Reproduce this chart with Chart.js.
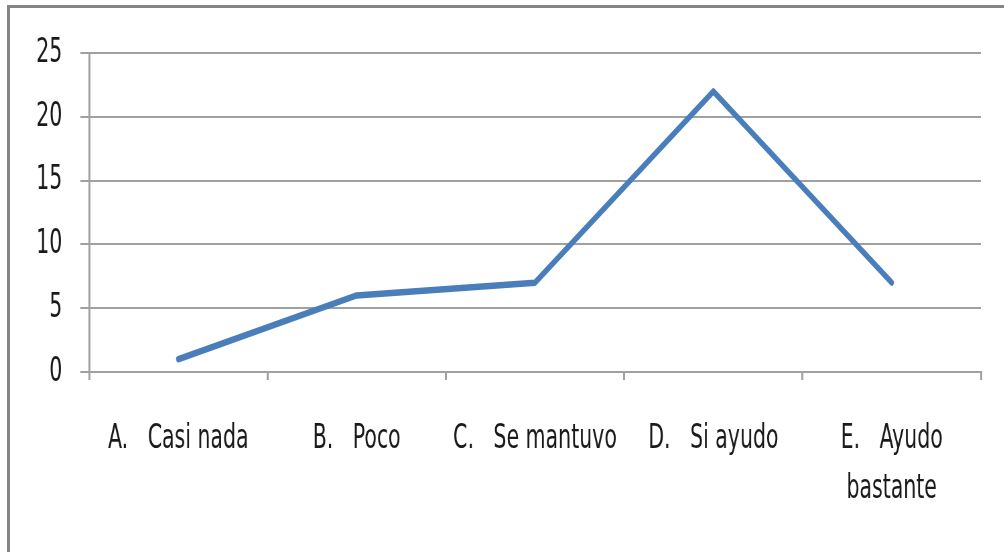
<!DOCTYPE html>
<html>
<head>
<meta charset="utf-8">
<script src="https://cdn.jsdelivr.net/npm/chart.js@4"></script>
<style>
  html, body { margin: 0; padding: 0; background: #fff; overflow: hidden; }
  #frame {
    position: absolute; left: 7px; top: 5px; width: 1010px; height: 560px;
    border-top: 3px solid #858585; border-left: 3px solid #858585;
  }
  /* the original chart has tall, narrow lettering: draw wide, then squeeze horizontally */
  #wrap {
    position: absolute; left: 0; top: 0; width: 1498px; height: 552px;
    transform: scaleX(0.67); transform-origin: 0 0;
  }
</style>
</head>
<body>
<div id="frame"></div>
<div id="wrap"><canvas id="chart" width="1498" height="552"></canvas></div>
<script>
const categories = [
  "A.   Casi nada",
  "B.   Poco",
  "C.   Se mantuvo",
  "D.   Si ayudo",
  ["E.   Ayudo", "bastante"]
];
const values = [1, 6, 7, 22, 7];
const yTicks = [0, 5, 10, 15, 20, 25];

const labelFont = {
  family: "\"DejaVu Sans Condensed\", \"DejaVu Sans\", sans-serif",
  size: 34,
  lineHeight: 1.47
};
const gridGray = "#a0a0a0";

new Chart(document.getElementById("chart"), {
  type: "line",
  data: {
    labels: categories,
    datasets: [{
      data: values,
      borderColor: "#4a7ebb",
      borderWidth: 6.5,
      borderCapStyle: "round",
      borderJoinStyle: "round",
      pointRadius: 0,
      tension: 0,
      fill: false
    }]
  },
  options: {
    responsive: false,
    animation: false,
    layout: { padding: { left: 0, right: 34, top: 53, bottom: 0 } },
    plugins: { legend: { display: false }, tooltip: { enabled: false } },
    scales: {
      x: {
        offset: true,
        grid: {
          offset: true,
          drawOnChartArea: false,
          drawTicks: true,
          tickLength: 8,
          color: gridGray,
          lineWidth: 3
        },
        border: { display: true, color: gridGray, width: 2 },
        ticks: {
          color: "#1a1a1a",
          font: labelFont,
          padding: 34,
          maxRotation: 0,
          autoSkip: false
        },
        afterFit: scale => { scale.height = 552 - 372; }
      },
      y: {
        min: 0,
        max: 25,
        afterBuildTicks: scale => {
          scale.ticks = yTicks.map(v => ({ value: v }));
        },
        grid: {
          color: gridGray,
          lineWidth: 2,
          tickLength: 13
        },
        border: { display: true, color: gridGray, width: 3 },
        ticks: {
          color: "#1a1a1a",
          font: labelFont,
          padding: 27
        },
        afterFit: scale => { scale.width = 133; }
      }
    }
  }
});
</script>
</body>
</html>
